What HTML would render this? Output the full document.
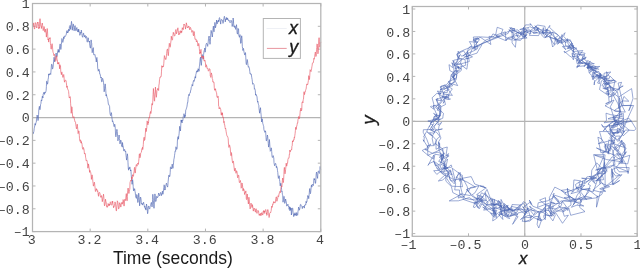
<!DOCTYPE html>
<html><head><meta charset="utf-8"><style>
html,body{margin:0;padding:0;background:#fff;width:640px;height:269px;overflow:hidden}
svg{display:block;will-change:transform}
.m{font-family:"Liberation Mono",monospace;font-size:13.3px;fill:#444}
.it{font-family:"Liberation Sans",sans-serif;font-style:italic;font-size:18px;fill:#1a1a1a;stroke:#1a1a1a;stroke-width:0.35}
.it2{font-family:"Liberation Sans",sans-serif;font-style:italic;font-size:16.8px;fill:#1a1a1a;stroke:#1a1a1a;stroke-width:0.35}
.lab{font-family:"Liberation Sans",sans-serif;font-size:17.5px;fill:#1a1a1a}
</style></head><body>
<svg width="640" height="269" viewBox="0 0 640 269">
<rect width="640" height="269" fill="#fff"/>
<line x1="32.5" y1="117.55" x2="320.8" y2="117.55" stroke="#b4b4b4" stroke-width="1.2"/>
<line x1="32.5" y1="231.6" x2="32.5" y2="228.6" stroke="#b4b4b4"/>
<line x1="32.5" y1="3.5" x2="32.5" y2="6.5" stroke="#b4b4b4"/>
<text x="31.80" y="244" text-anchor="middle" class="m">3</text>
<line x1="90.16000000000005" y1="231.6" x2="90.16000000000005" y2="228.6" stroke="#b4b4b4"/>
<line x1="90.16000000000005" y1="3.5" x2="90.16000000000005" y2="6.5" stroke="#b4b4b4"/>
<text x="89.46" y="244" text-anchor="middle" class="m">3.2</text>
<line x1="147.82" y1="231.6" x2="147.82" y2="228.6" stroke="#b4b4b4"/>
<line x1="147.82" y1="3.5" x2="147.82" y2="6.5" stroke="#b4b4b4"/>
<text x="147.12" y="244" text-anchor="middle" class="m">3.4</text>
<line x1="205.48000000000005" y1="231.6" x2="205.48000000000005" y2="228.6" stroke="#b4b4b4"/>
<line x1="205.48000000000005" y1="3.5" x2="205.48000000000005" y2="6.5" stroke="#b4b4b4"/>
<text x="204.78" y="244" text-anchor="middle" class="m">3.6</text>
<line x1="263.14" y1="231.6" x2="263.14" y2="228.6" stroke="#b4b4b4"/>
<line x1="263.14" y1="3.5" x2="263.14" y2="6.5" stroke="#b4b4b4"/>
<text x="262.44" y="244" text-anchor="middle" class="m">3.8</text>
<line x1="320.8" y1="231.6" x2="320.8" y2="228.6" stroke="#b4b4b4"/>
<line x1="320.8" y1="3.5" x2="320.8" y2="6.5" stroke="#b4b4b4"/>
<text x="320.10" y="244" text-anchor="middle" class="m">4</text>
<line x1="32.5" y1="231.6" x2="35.5" y2="231.6" stroke="#b4b4b4"/>
<line x1="320.8" y1="231.6" x2="317.8" y2="231.6" stroke="#b4b4b4"/>
<text x="29.8" y="236.40" text-anchor="end" class="m">&#8211;1</text>
<line x1="32.5" y1="208.79000000000002" x2="35.5" y2="208.79000000000002" stroke="#b4b4b4"/>
<line x1="320.8" y1="208.79000000000002" x2="317.8" y2="208.79000000000002" stroke="#b4b4b4"/>
<text x="29.8" y="213.59" text-anchor="end" class="m">&#8211;0.8</text>
<line x1="32.5" y1="185.98" x2="35.5" y2="185.98" stroke="#b4b4b4"/>
<line x1="320.8" y1="185.98" x2="317.8" y2="185.98" stroke="#b4b4b4"/>
<text x="29.8" y="190.78" text-anchor="end" class="m">&#8211;0.6</text>
<line x1="32.5" y1="163.17" x2="35.5" y2="163.17" stroke="#b4b4b4"/>
<line x1="320.8" y1="163.17" x2="317.8" y2="163.17" stroke="#b4b4b4"/>
<text x="29.8" y="167.97" text-anchor="end" class="m">&#8211;0.4</text>
<line x1="32.5" y1="140.35999999999999" x2="35.5" y2="140.35999999999999" stroke="#b4b4b4"/>
<line x1="320.8" y1="140.35999999999999" x2="317.8" y2="140.35999999999999" stroke="#b4b4b4"/>
<text x="29.8" y="145.16" text-anchor="end" class="m">&#8211;0.2</text>
<line x1="32.5" y1="117.55" x2="35.5" y2="117.55" stroke="#b4b4b4"/>
<line x1="320.8" y1="117.55" x2="317.8" y2="117.55" stroke="#b4b4b4"/>
<text x="29.8" y="122.35" text-anchor="end" class="m">0</text>
<line x1="32.5" y1="94.73999999999998" x2="35.5" y2="94.73999999999998" stroke="#b4b4b4"/>
<line x1="320.8" y1="94.73999999999998" x2="317.8" y2="94.73999999999998" stroke="#b4b4b4"/>
<text x="29.8" y="99.54" text-anchor="end" class="m">0.2</text>
<line x1="32.5" y1="71.92999999999998" x2="35.5" y2="71.92999999999998" stroke="#b4b4b4"/>
<line x1="320.8" y1="71.92999999999998" x2="317.8" y2="71.92999999999998" stroke="#b4b4b4"/>
<text x="29.8" y="76.73" text-anchor="end" class="m">0.4</text>
<line x1="32.5" y1="49.11999999999999" x2="35.5" y2="49.11999999999999" stroke="#b4b4b4"/>
<line x1="320.8" y1="49.11999999999999" x2="317.8" y2="49.11999999999999" stroke="#b4b4b4"/>
<text x="29.8" y="53.92" text-anchor="end" class="m">0.6</text>
<line x1="32.5" y1="26.309999999999988" x2="35.5" y2="26.309999999999988" stroke="#b4b4b4"/>
<line x1="320.8" y1="26.309999999999988" x2="317.8" y2="26.309999999999988" stroke="#b4b4b4"/>
<text x="29.8" y="31.11" text-anchor="end" class="m">0.8</text>
<line x1="32.5" y1="3.5" x2="35.5" y2="3.5" stroke="#b4b4b4"/>
<line x1="320.8" y1="3.5" x2="317.8" y2="3.5" stroke="#b4b4b4"/>
<text x="29.8" y="8.30" text-anchor="end" class="m">1</text>
<polyline points="32.5,134.8 32.8,132.5 33.1,132.4 33.4,133.5 33.7,131.9 33.9,131.4 34.2,128.7 34.5,127.2 34.8,125.4 35.1,123.5 35.4,125.2 35.7,123.8 36.0,122.6 36.3,122.1 36.5,119.1 36.8,118.0 37.1,115.0 37.4,116.0 37.7,118.2 38.0,120.6 38.3,119.0 38.6,114.3 38.8,109.8 39.1,107.8 39.4,106.3 39.7,109.4 40.0,109.8 40.3,108.0 40.6,104.4 40.9,103.7 41.2,100.6 41.4,99.9 41.7,100.9 42.0,99.0 42.3,96.1 42.6,96.7 42.9,98.0 43.2,94.2 43.5,93.7 43.8,94.0 44.0,92.1 44.3,94.3 44.6,94.3 44.9,92.0 45.2,92.2 45.5,92.6 45.8,91.7 46.1,90.5 46.4,86.5 46.6,81.2 46.9,81.4 47.2,83.0 47.5,84.2 47.8,82.9 48.1,79.3 48.4,77.9 48.7,74.1 48.9,75.2 49.2,73.7 49.5,74.5 49.8,74.0 50.1,74.0 50.4,73.6 50.7,74.5 51.0,70.9 51.3,67.1 51.5,64.3 51.8,64.2 52.1,65.0 52.4,69.1 52.7,68.6 53.0,67.5 53.3,64.9 53.6,61.6 53.9,59.9 54.1,57.2 54.4,61.8 54.7,59.9 55.0,59.9 55.3,58.7 55.6,57.4 55.9,54.1 56.2,53.0 56.5,56.1 56.7,56.9 57.0,56.3 57.3,55.7 57.6,51.2 57.9,50.8 58.2,49.3 58.5,52.2 58.8,50.4 59.1,52.4 59.3,51.3 59.6,46.7 59.9,45.2 60.2,43.9 60.5,48.0 60.8,49.5 61.1,48.6 61.4,44.6 61.6,42.0 61.9,38.5 62.2,39.3 62.5,41.8 62.8,42.4 63.1,41.6 63.4,40.5 63.7,37.0 64.0,38.6 64.2,36.0 64.5,35.9 64.8,36.4 65.1,36.7 65.4,36.2 65.7,35.6 66.0,35.0 66.3,34.1 66.6,31.5 66.8,31.5 67.1,30.5 67.4,33.0 67.7,31.8 68.0,32.5 68.3,32.2 68.6,29.6 68.9,29.0 69.2,31.0 69.4,26.9 69.7,27.2 70.0,25.4 70.3,25.8 70.6,29.4 70.9,27.0 71.2,23.8 71.5,21.4 71.7,22.8 72.0,25.9 72.3,30.2 72.6,26.6 72.9,26.2 73.2,23.9 73.5,24.7 73.8,27.8 74.1,30.8 74.3,29.8 74.6,27.4 74.9,25.8 75.2,25.6 75.5,30.3 75.8,30.7 76.1,30.6 76.4,29.0 76.7,27.8 76.9,27.5 77.2,30.5 77.5,31.6 77.8,31.6 78.1,29.4 78.4,32.1 78.7,29.2 79.0,30.9 79.3,31.6 79.5,33.3 79.8,35.3 80.1,34.6 80.4,34.3 80.7,32.1 81.0,32.9 81.3,30.1 81.6,31.8 81.8,33.6 82.1,35.7 82.4,37.0 82.7,37.3 83.0,35.4 83.3,33.3 83.6,33.1 83.9,35.3 84.2,35.7 84.4,37.0 84.7,36.3 85.0,35.2 85.3,37.2 85.6,38.2 85.9,38.0 86.2,36.3 86.5,36.9 86.8,37.4 87.0,41.9 87.3,42.1 87.6,41.5 87.9,39.3 88.2,37.8 88.5,40.6 88.8,41.2 89.1,42.1 89.4,41.0 89.6,43.8 89.9,45.9 90.2,47.9 90.5,48.1 90.8,44.4 91.1,39.9 91.4,42.6 91.7,43.5 91.9,48.6 92.2,52.7 92.5,51.3 92.8,48.8 93.1,48.0 93.4,47.7 93.7,54.8 94.0,54.9 94.3,55.0 94.5,54.9 94.8,54.4 95.1,55.1 95.4,57.4 95.7,58.3 96.0,59.0 96.3,62.0 96.6,58.3 96.9,57.4 97.1,59.2 97.4,61.9 97.7,68.1 98.0,69.6 98.3,71.2 98.6,70.9 98.9,69.2 99.2,71.0 99.5,71.0 99.7,73.8 100.0,73.7 100.3,74.9 100.6,76.7 100.9,77.9 101.2,77.0 101.5,81.2 101.8,81.9 102.0,81.8 102.3,79.7 102.6,78.3 102.9,79.2 103.2,80.2 103.5,82.2 103.8,85.4 104.1,91.8 104.4,91.1 104.6,88.5 104.9,85.7 105.2,83.9 105.5,86.8 105.8,90.8 106.1,96.0 106.4,94.5 106.7,96.0 107.0,97.3 107.2,97.7 107.5,98.4 107.8,99.6 108.1,102.0 108.4,104.4 108.7,104.5 109.0,104.6 109.3,105.8 109.6,106.5 109.8,110.9 110.1,113.8 110.4,115.0 110.7,115.7 111.0,114.2 111.3,112.6 111.6,114.2 111.9,117.8 112.2,119.5 112.4,121.7 112.7,120.8 113.0,121.6 113.3,122.8 113.6,124.2 113.9,126.0 114.2,126.7 114.5,125.7 114.7,124.2 115.0,125.6 115.3,128.6 115.6,135.7 115.9,136.8 116.2,135.5 116.5,131.4 116.8,129.3 117.1,129.7 117.3,131.7 117.6,136.3 117.9,140.8 118.2,139.6 118.5,138.4 118.8,137.3 119.1,135.0 119.4,138.4 119.7,140.4 119.9,143.9 120.2,143.5 120.5,140.6 120.8,140.0 121.1,141.0 121.4,144.2 121.7,146.1 122.0,146.1 122.3,147.1 122.5,142.5 122.8,145.3 123.1,145.9 123.4,148.1 123.7,150.6 124.0,151.1 124.3,150.0 124.6,149.4 124.8,150.2 125.1,150.9 125.4,151.9 125.7,151.3 126.0,155.2 126.3,157.6 126.6,160.1 126.9,158.0 127.2,154.9 127.4,153.8 127.7,156.7 128.0,162.8 128.3,168.5 128.6,170.2 128.9,167.8 129.2,168.9 129.5,168.4 129.8,166.9 130.0,167.9 130.3,169.4 130.6,171.0 130.9,169.9 131.2,174.3 131.5,178.2 131.8,182.4 132.1,184.3 132.4,182.3 132.6,179.6 132.9,181.7 133.2,186.6 133.5,190.5 133.8,191.0 134.1,188.6 134.4,189.4 134.7,188.9 134.9,191.2 135.2,191.9 135.5,195.2 135.8,197.3 136.1,197.4 136.4,198.4 136.7,194.6 137.0,194.6 137.3,196.2 137.5,200.1 137.8,202.5 138.1,201.9 138.4,197.6 138.7,193.2 139.0,195.7 139.3,199.8 139.6,205.8 139.9,204.2 140.1,201.0 140.4,197.0 140.7,197.5 141.0,199.0 141.3,202.9 141.6,204.1 141.9,204.1 142.2,203.4 142.5,205.1 142.7,204.4 143.0,203.9 143.3,202.7 143.6,202.2 143.9,204.2 144.2,205.3 144.5,207.3 144.8,206.3 145.0,206.7 145.3,208.8 145.6,208.2 145.9,210.1 146.2,206.4 146.5,204.0 146.8,205.7 147.1,208.0 147.4,211.6 147.6,213.7 147.9,212.4 148.2,207.3 148.5,206.2 148.8,206.1 149.1,208.3 149.4,208.6 149.7,209.1 150.0,207.4 150.2,206.2 150.5,205.7 150.8,204.2 151.1,203.1 151.4,202.4 151.7,204.8 152.0,206.9 152.3,205.5 152.6,199.7 152.8,194.3 153.1,197.1 153.4,200.4 153.7,204.6 154.0,208.3 154.3,203.0 154.6,199.0 154.9,193.9 155.2,195.7 155.4,199.3 155.7,201.6 156.0,201.4 156.3,199.6 156.6,196.4 156.9,196.6 157.2,196.7 157.5,197.7 157.7,197.2 158.0,197.1 158.3,195.2 158.6,193.0 158.9,193.6 159.2,194.3 159.5,195.5 159.8,196.0 160.1,194.2 160.3,193.0 160.6,192.4 160.9,192.7 161.2,194.1 161.5,195.6 161.8,193.8 162.1,193.8 162.4,191.0 162.7,191.5 162.9,194.3 163.2,192.2 163.5,189.9 163.8,187.6 164.1,184.8 164.4,185.5 164.7,190.1 165.0,189.2 165.3,189.6 165.5,188.3 165.8,185.4 166.1,184.4 166.4,183.2 166.7,184.2 167.0,185.8 167.3,186.1 167.6,187.1 167.8,185.8 168.1,181.9 168.4,179.0 168.7,175.2 169.0,175.5 169.3,175.3 169.6,176.8 169.9,175.8 170.2,172.7 170.4,167.5 170.7,166.8 171.0,167.7 171.3,169.0 171.6,167.6 171.9,166.5 172.2,164.1 172.5,166.1 172.8,168.4 173.0,168.3 173.3,165.4 173.6,162.2 173.9,159.2 174.2,158.1 174.5,155.7 174.8,153.6 175.1,151.0 175.4,150.8 175.6,151.3 175.9,146.8 176.2,147.3 176.5,149.3 176.8,149.4 177.1,148.6 177.4,141.1 177.7,137.4 177.9,137.2 178.2,136.5 178.5,139.2 178.8,135.8 179.1,133.8 179.4,130.0 179.7,126.3 180.0,128.3 180.3,130.3 180.5,131.0 180.8,125.0 181.1,119.9 181.4,121.8 181.7,120.0 182.0,123.0 182.3,120.5 182.6,121.0 182.9,120.1 183.1,117.4 183.4,116.2 183.7,115.7 184.0,113.7 184.3,115.4 184.6,117.8 184.9,115.1 185.2,116.5 185.5,114.3 185.7,110.1 186.0,109.6 186.3,108.8 186.6,107.8 186.9,106.9 187.2,104.9 187.5,102.5 187.8,102.6 188.0,99.6 188.3,96.7 188.6,96.3 188.9,94.4 189.2,95.6 189.5,93.7 189.8,93.4 190.1,92.4 190.4,92.5 190.6,90.4 190.9,90.3 191.2,87.7 191.5,86.9 191.8,86.4 192.1,84.5 192.4,85.0 192.7,85.9 193.0,82.8 193.2,82.0 193.5,80.7 193.8,80.3 194.1,81.4 194.4,80.5 194.7,78.9 195.0,76.6 195.3,76.7 195.6,78.1 195.8,74.7 196.1,73.8 196.4,71.8 196.7,71.2 197.0,72.2 197.3,70.3 197.6,71.6 197.9,71.9 198.1,68.7 198.4,69.6 198.7,69.1 199.0,71.3 199.3,66.9 199.6,65.1 199.9,61.8 200.2,58.6 200.5,57.2 200.7,61.1 201.0,63.2 201.3,65.4 201.6,62.2 201.9,56.5 202.2,54.5 202.5,56.3 202.8,56.9 203.1,59.2 203.3,58.8 203.6,54.7 203.9,52.0 204.2,50.6 204.5,49.6 204.8,48.0 205.1,52.2 205.4,50.4 205.7,48.0 205.9,44.8 206.2,44.3 206.5,43.2 206.8,43.6 207.1,43.8 207.4,45.7 207.7,46.4 208.0,43.7 208.3,41.2 208.5,38.5 208.8,37.0 209.1,36.0 209.4,38.5 209.7,41.0 210.0,44.3 210.3,41.3 210.6,37.2 210.8,33.7 211.1,30.4 211.4,31.2 211.7,33.7 212.0,34.9 212.3,37.0 212.6,34.1 212.9,30.2 213.2,27.3 213.4,26.1 213.7,30.1 214.0,31.8 214.3,28.9 214.6,25.7 214.9,22.4 215.2,24.7 215.5,27.8 215.8,26.1 216.0,25.3 216.3,23.8 216.6,20.0 216.9,23.4 217.2,23.9 217.5,23.4 217.8,21.0 218.1,21.5 218.4,20.0 218.6,21.7 218.9,21.5 219.2,18.4 219.5,17.6 219.8,18.5 220.1,20.0 220.4,22.2 220.7,24.1 220.9,21.4 221.2,20.4 221.5,19.4 221.8,19.7 222.1,19.9 222.4,20.9 222.7,20.9 223.0,23.4 223.3,22.3 223.5,19.7 223.8,19.7 224.1,17.3 224.4,16.3 224.7,17.7 225.0,19.5 225.3,21.9 225.6,19.4 225.9,19.9 226.1,18.7 226.4,17.5 226.7,19.5 227.0,19.8 227.3,17.9 227.6,19.3 227.9,18.8 228.2,20.3 228.5,20.3 228.7,20.5 229.0,20.0 229.3,21.3 229.6,22.2 229.9,22.4 230.2,22.8 230.5,22.4 230.8,22.0 231.0,20.2 231.3,20.8 231.6,21.1 231.9,23.4 232.2,26.5 232.5,24.8 232.8,23.8 233.1,18.0 233.4,19.5 233.6,23.3 233.9,26.5 234.2,25.7 234.5,27.4 234.8,26.5 235.1,26.2 235.4,28.3 235.7,29.4 236.0,26.7 236.2,26.3 236.5,24.7 236.8,28.2 237.1,32.8 237.4,34.0 237.7,34.1 238.0,28.4 238.3,29.3 238.6,29.1 238.8,35.6 239.1,36.2 239.4,37.3 239.7,35.8 240.0,34.6 240.3,37.3 240.6,43.3 240.9,43.2 241.1,43.1 241.4,38.2 241.7,35.8 242.0,38.3 242.3,46.4 242.6,48.4 242.9,50.5 243.2,49.5 243.5,48.4 243.7,49.7 244.0,52.1 244.3,53.0 244.6,54.8 244.9,54.9 245.2,53.6 245.5,52.6 245.8,57.8 246.1,63.0 246.3,64.4 246.6,64.7 246.9,61.8 247.2,59.5 247.5,60.7 247.8,63.5 248.1,66.0 248.4,67.2 248.7,66.7 248.9,66.7 249.2,67.9 249.5,69.0 249.8,71.6 250.1,73.9 250.4,73.5 250.7,74.4 251.0,74.2 251.3,74.1 251.5,76.0 251.8,77.8 252.1,79.4 252.4,81.8 252.7,84.3 253.0,83.6 253.3,83.6 253.6,84.0 253.8,84.2 254.1,84.7 254.4,89.2 254.7,88.7 255.0,89.3 255.3,90.7 255.6,95.0 255.9,94.1 256.2,95.9 256.4,95.5 256.7,95.7 257.0,96.9 257.3,100.2 257.6,102.2 257.9,101.3 258.2,103.2 258.5,104.6 258.8,105.4 259.0,108.6 259.3,110.6 259.6,113.2 259.9,110.2 260.2,109.2 260.5,107.7 260.8,112.3 261.1,114.7 261.4,119.0 261.6,122.0 261.9,120.9 262.2,118.8 262.5,121.1 262.8,123.6 263.1,124.4 263.4,125.6 263.7,126.4 263.9,129.5 264.2,130.8 264.5,130.8 264.8,132.3 265.1,131.9 265.4,130.8 265.7,132.0 266.0,137.3 266.3,140.9 266.5,140.8 266.8,139.7 267.1,137.1 267.4,135.0 267.7,136.5 268.0,140.3 268.3,143.7 268.6,147.1 268.9,145.5 269.1,143.6 269.4,139.5 269.7,143.0 270.0,148.2 270.3,151.3 270.6,151.0 270.9,150.1 271.2,147.8 271.5,149.2 271.7,151.4 272.0,156.0 272.3,157.5 272.6,157.3 272.9,156.5 273.2,155.6 273.5,157.0 273.8,158.0 274.0,162.7 274.3,164.2 274.6,165.7 274.9,164.5 275.2,164.3 275.5,163.4 275.8,163.6 276.1,165.6 276.4,167.7 276.6,166.3 276.9,167.1 277.2,167.9 277.5,170.6 277.8,172.6 278.1,176.3 278.4,178.4 278.7,177.9 279.0,175.7 279.2,175.8 279.5,179.6 279.8,181.4 280.1,185.6 280.4,185.9 280.7,183.2 281.0,183.6 281.3,187.0 281.6,189.4 281.8,192.0 282.1,191.5 282.4,194.3 282.7,195.2 283.0,202.2 283.3,200.7 283.6,199.4 283.9,196.4 284.1,196.4 284.4,200.0 284.7,203.4 285.0,202.7 285.3,201.5 285.6,199.0 285.9,200.5 286.2,201.4 286.5,204.1 286.7,206.0 287.0,206.1 287.3,205.7 287.6,204.7 287.9,204.1 288.2,205.4 288.5,206.7 288.8,206.4 289.1,209.3 289.3,208.6 289.6,206.8 289.9,210.7 290.2,208.8 290.5,207.5 290.8,210.2 291.1,208.0 291.4,215.0 291.7,212.4 291.9,210.9 292.2,208.6 292.5,207.9 292.8,208.7 293.1,213.2 293.4,214.3 293.7,216.6 294.0,215.3 294.2,213.7 294.5,215.3 294.8,214.0 295.1,212.7 295.4,214.7 295.7,214.0 296.0,215.5 296.3,216.0 296.6,212.6 296.8,212.9 297.1,214.4 297.4,215.1 297.7,215.3 298.0,211.3 298.3,210.0 298.6,207.1 298.9,208.3 299.2,208.6 299.4,210.2 299.7,209.2 300.0,207.8 300.3,204.7 300.6,204.4 300.9,204.5 301.2,205.7 301.5,206.1 301.8,206.3 302.0,206.8 302.3,208.6 302.6,207.2 302.9,206.0 303.2,206.3 303.5,206.5 303.8,206.3 304.1,208.1 304.4,208.0 304.6,205.3 304.9,205.7 305.2,204.8 305.5,204.2 305.8,204.6 306.1,201.3 306.4,202.8 306.7,202.0 306.9,201.7 307.2,199.1 307.5,197.7 307.8,195.5 308.1,196.5 308.4,196.2 308.7,198.7 309.0,196.1 309.3,192.6 309.5,190.1 309.8,188.5 310.1,192.4 310.4,193.7 310.7,192.2 311.0,189.1 311.3,185.7 311.6,185.0 311.9,187.1 312.1,184.4 312.4,184.5 312.7,184.4 313.0,185.0 313.3,185.6 313.6,183.4 313.9,178.6 314.2,178.7 314.5,179.8 314.7,178.7 315.0,180.7 315.3,183.3 315.6,183.3 315.9,179.7 316.2,174.1 316.5,172.1 316.8,173.2 317.0,175.4 317.3,176.9 317.6,178.4 317.9,173.6 318.2,171.2 318.5,170.9 318.8,171.8 319.1,173.2 319.4,173.5 319.6,172.7 319.9,169.6 320.2,166.4 320.5,169.2 320.8,169.6" fill="none" stroke="#5068b4" stroke-width="0.65"/>
<polyline points="32.5,27.0 32.8,26.6 33.1,25.6 33.4,25.5 33.7,22.9 33.9,25.6 34.2,28.1 34.5,29.1 34.8,28.0 35.1,24.8 35.4,22.6 35.7,23.0 36.0,23.9 36.3,26.9 36.5,26.9 36.8,28.0 37.1,26.2 37.4,22.3 37.7,23.2 38.0,22.2 38.3,23.5 38.6,26.6 38.8,28.9 39.1,27.2 39.4,28.1 39.7,21.6 40.0,18.7 40.3,22.0 40.6,24.8 40.9,26.5 41.2,26.5 41.4,28.5 41.7,25.5 42.0,23.9 42.3,23.0 42.6,25.3 42.9,27.9 43.2,30.6 43.5,29.4 43.8,27.8 44.0,26.5 44.3,27.2 44.6,29.7 44.9,32.2 45.2,29.0 45.5,29.6 45.8,32.0 46.1,33.1 46.4,37.1 46.6,34.2 46.9,30.7 47.2,28.5 47.5,31.1 47.8,36.9 48.1,40.0 48.4,39.0 48.7,42.1 48.9,39.0 49.2,37.8 49.5,38.3 49.8,38.8 50.1,37.6 50.4,43.8 50.7,45.3 51.0,48.8 51.3,49.2 51.5,47.1 51.8,44.9 52.1,43.7 52.4,46.0 52.7,49.3 53.0,52.2 53.3,52.8 53.6,53.9 53.9,55.6 54.1,55.2 54.4,54.3 54.7,55.7 55.0,57.2 55.3,60.2 55.6,61.4 55.9,60.7 56.2,58.4 56.5,57.6 56.7,55.7 57.0,59.8 57.3,59.9 57.6,63.9 57.9,63.9 58.2,62.8 58.5,63.8 58.8,62.3 59.1,64.5 59.3,65.1 59.6,68.8 59.9,64.7 60.2,65.7 60.5,65.9 60.8,72.2 61.1,73.1 61.4,74.7 61.6,72.6 61.9,71.9 62.2,74.1 62.5,75.0 62.8,77.3 63.1,77.3 63.4,75.5 63.7,74.5 64.0,76.4 64.2,80.0 64.5,82.2 64.8,80.7 65.1,80.9 65.4,80.4 65.7,80.2 66.0,80.4 66.3,82.5 66.6,85.2 66.8,87.4 67.1,85.9 67.4,88.1 67.7,89.0 68.0,89.8 68.3,90.3 68.6,91.4 68.9,94.6 69.2,97.9 69.4,97.9 69.7,97.0 70.0,96.8 70.3,96.7 70.6,103.2 70.9,107.5 71.2,113.3 71.5,111.0 71.7,106.7 72.0,107.2 72.3,111.7 72.6,116.0 72.9,117.7 73.2,117.7 73.5,117.5 73.8,116.6 74.1,117.3 74.3,118.8 74.6,120.2 74.9,121.6 75.2,121.6 75.5,122.2 75.8,124.7 76.1,126.5 76.4,128.5 76.7,128.9 76.9,126.6 77.2,124.2 77.5,126.7 77.8,129.5 78.1,133.6 78.4,132.7 78.7,130.8 79.0,131.2 79.3,135.5 79.5,138.7 79.8,140.4 80.1,141.4 80.4,139.8 80.7,140.3 81.0,143.1 81.3,141.5 81.6,143.1 81.8,143.0 82.1,144.7 82.4,147.8 82.7,148.8 83.0,149.4 83.3,147.4 83.6,148.2 83.9,149.0 84.2,151.1 84.4,153.6 84.7,153.0 85.0,154.1 85.3,153.8 85.6,157.3 85.9,158.6 86.2,160.9 86.5,160.5 86.8,160.2 87.0,160.6 87.3,162.5 87.6,165.1 87.9,168.2 88.2,166.9 88.5,163.9 88.8,166.1 89.1,167.6 89.4,170.1 89.6,172.4 89.9,170.3 90.2,171.3 90.5,171.9 90.8,172.8 91.1,175.0 91.4,179.4 91.7,176.8 91.9,175.3 92.2,174.9 92.5,176.8 92.8,181.1 93.1,183.4 93.4,186.1 93.7,186.0 94.0,183.3 94.3,182.1 94.5,182.6 94.8,185.5 95.1,188.1 95.4,191.5 95.7,191.3 96.0,190.0 96.3,188.6 96.6,190.0 96.9,189.9 97.1,189.6 97.4,191.5 97.7,190.8 98.0,192.7 98.3,195.1 98.6,196.3 98.9,192.9 99.2,193.0 99.5,192.4 99.7,192.6 100.0,193.6 100.3,195.5 100.6,197.1 100.9,197.4 101.2,196.9 101.5,195.6 101.8,197.1 102.0,198.6 102.3,201.7 102.6,199.9 102.9,197.8 103.2,196.2 103.5,194.2 103.8,196.8 104.1,201.2 104.4,205.2 104.6,205.9 104.9,204.7 105.2,202.8 105.5,199.2 105.8,201.3 106.1,201.8 106.4,204.6 106.7,206.5 107.0,205.9 107.2,207.4 107.5,207.0 107.8,206.1 108.1,203.5 108.4,204.0 108.7,205.1 109.0,206.0 109.3,204.1 109.6,205.2 109.8,205.1 110.1,202.8 110.4,201.8 110.7,202.3 111.0,204.7 111.3,205.1 111.6,204.9 111.9,204.7 112.2,201.3 112.4,202.5 112.7,201.3 113.0,205.0 113.3,205.6 113.6,207.8 113.9,206.1 114.2,206.4 114.5,205.6 114.7,203.7 115.0,201.9 115.3,202.8 115.6,203.9 115.9,207.8 116.2,210.8 116.5,210.8 116.8,206.8 117.1,204.4 117.3,200.8 117.6,201.5 117.9,202.3 118.2,205.2 118.5,208.9 118.8,208.8 119.1,208.0 119.4,204.3 119.7,202.7 119.9,203.5 120.2,204.8 120.5,204.7 120.8,207.1 121.1,205.4 121.4,202.7 121.7,202.6 122.0,203.6 122.3,204.2 122.5,202.6 122.8,203.3 123.1,199.6 123.4,200.3 123.7,203.7 124.0,206.1 124.3,204.9 124.6,199.9 124.8,199.2 125.1,199.5 125.4,200.6 125.7,199.1 126.0,196.0 126.3,193.6 126.6,197.2 126.9,200.7 127.2,200.7 127.4,196.5 127.7,190.3 128.0,188.0 128.3,188.4 128.6,191.8 128.9,193.5 129.2,191.9 129.5,189.9 129.8,189.2 130.0,182.7 130.3,181.6 130.6,180.8 130.9,180.0 131.2,181.0 131.5,180.8 131.8,176.9 132.1,178.9 132.4,176.8 132.6,174.7 132.9,176.1 133.2,176.1 133.5,176.3 133.8,172.8 134.1,172.0 134.4,168.1 134.7,167.3 134.9,170.1 135.2,173.1 135.5,170.7 135.8,168.1 136.1,165.5 136.4,164.5 136.7,165.5 137.0,166.2 137.3,164.8 137.5,164.2 137.8,163.1 138.1,163.8 138.4,164.4 138.7,161.4 139.0,158.4 139.3,153.9 139.6,153.8 139.9,157.8 140.1,157.4 140.4,156.5 140.7,153.1 141.0,152.8 141.3,152.4 141.6,151.0 141.9,148.5 142.2,148.3 142.5,147.3 142.7,149.6 143.0,147.8 143.3,144.6 143.6,139.6 143.9,138.1 144.2,137.2 144.5,140.5 144.8,139.8 145.0,138.6 145.3,134.0 145.6,130.2 145.9,128.1 146.2,131.6 146.5,129.1 146.8,127.7 147.1,120.9 147.4,121.6 147.6,121.8 147.9,124.8 148.2,122.3 148.5,122.9 148.8,118.6 149.1,117.5 149.4,118.1 149.7,116.1 150.0,113.6 150.2,112.8 150.5,111.5 150.8,113.6 151.1,112.3 151.4,109.8 151.7,106.2 152.0,103.5 152.3,105.1 152.6,104.3 152.8,100.8 153.1,94.4 153.4,88.5 153.7,91.9 154.0,96.6 154.3,100.6 154.6,101.2 154.9,94.2 155.2,92.1 155.4,87.1 155.7,89.2 156.0,95.4 156.3,97.3 156.6,95.0 156.9,90.6 157.2,90.1 157.5,90.0 157.7,88.5 158.0,88.4 158.3,90.0 158.6,90.5 158.9,85.1 159.2,83.9 159.5,79.8 159.8,78.2 160.1,77.0 160.3,77.3 160.6,76.5 160.9,76.1 161.2,76.4 161.5,71.2 161.8,65.7 162.1,66.5 162.4,67.3 162.7,66.0 162.9,66.3 163.2,66.9 163.5,66.6 163.8,63.3 164.1,59.1 164.4,55.6 164.7,56.6 165.0,57.8 165.3,59.2 165.5,58.7 165.8,59.5 166.1,58.8 166.4,55.9 166.7,53.2 167.0,50.1 167.3,49.4 167.6,48.9 167.8,51.7 168.1,55.3 168.4,55.7 168.7,51.3 169.0,46.5 169.3,43.3 169.6,44.2 169.9,46.9 170.2,47.2 170.4,46.4 170.7,43.0 171.0,40.7 171.3,36.2 171.6,38.2 171.9,39.3 172.2,40.2 172.5,39.8 172.8,36.6 173.0,34.9 173.3,32.3 173.6,33.5 173.9,33.3 174.2,35.7 174.5,35.9 174.8,35.9 175.1,34.8 175.4,31.4 175.6,30.4 175.9,29.5 176.2,31.2 176.5,33.8 176.8,33.0 177.1,31.6 177.4,30.4 177.7,28.4 177.9,27.8 178.2,30.7 178.5,32.0 178.8,34.9 179.1,33.6 179.4,33.7 179.7,34.2 180.0,31.0 180.3,30.7 180.5,32.4 180.8,32.5 181.1,33.1 181.4,31.0 181.7,32.4 182.0,30.6 182.3,27.7 182.6,29.1 182.9,29.0 183.1,29.6 183.4,29.4 183.7,26.1 184.0,24.0 184.3,25.0 184.6,24.8 184.9,25.3 185.2,26.7 185.5,29.1 185.7,27.2 186.0,26.0 186.3,22.8 186.6,24.0 186.9,25.2 187.2,27.5 187.5,27.9 187.8,27.0 188.0,26.9 188.3,27.4 188.6,26.1 188.9,26.0 189.2,27.3 189.5,28.9 189.8,29.8 190.1,27.8 190.4,27.3 190.6,27.9 190.9,28.6 191.2,30.0 191.5,30.4 191.8,32.3 192.1,31.8 192.4,31.4 192.7,30.5 193.0,31.3 193.2,34.8 193.5,35.8 193.8,33.8 194.1,31.5 194.4,33.9 194.7,35.9 195.0,39.4 195.3,39.3 195.6,39.3 195.8,38.9 196.1,39.2 196.4,42.0 196.7,41.6 197.0,40.6 197.3,41.5 197.6,43.8 197.9,46.0 198.1,46.0 198.4,44.8 198.7,43.4 199.0,44.6 199.3,48.5 199.6,51.5 199.9,54.1 200.2,51.9 200.5,53.0 200.7,50.4 201.0,49.4 201.3,54.7 201.6,58.0 201.9,58.2 202.2,56.2 202.5,57.0 202.8,56.4 203.1,57.6 203.3,58.8 203.6,56.2 203.9,60.1 204.2,61.2 204.5,61.0 204.8,60.1 205.1,61.0 205.4,62.8 205.7,65.3 205.9,67.2 206.2,64.7 206.5,65.4 206.8,66.3 207.1,68.6 207.4,68.4 207.7,68.6 208.0,68.5 208.3,71.1 208.5,70.8 208.8,70.7 209.1,70.5 209.4,68.6 209.7,68.9 210.0,69.5 210.3,75.9 210.6,76.2 210.8,77.4 211.1,75.1 211.4,72.9 211.7,74.3 212.0,75.1 212.3,78.6 212.6,79.1 212.9,82.0 213.2,81.6 213.4,82.4 213.7,82.0 214.0,82.6 214.3,87.8 214.6,90.2 214.9,89.6 215.2,90.2 215.5,88.7 215.8,90.7 216.0,91.1 216.3,92.5 216.6,92.7 216.9,96.5 217.2,97.5 217.5,97.6 217.8,96.1 218.1,96.1 218.4,98.5 218.6,106.0 218.9,106.5 219.2,109.0 219.5,108.1 219.8,107.5 220.1,108.4 220.4,108.4 220.7,109.4 220.9,111.2 221.2,114.7 221.5,115.2 221.8,112.7 222.1,114.8 222.4,112.8 222.7,116.0 223.0,117.9 223.3,117.4 223.5,118.2 223.8,122.6 224.1,121.4 224.4,124.7 224.7,124.6 225.0,127.2 225.3,128.7 225.6,128.1 225.9,130.0 226.1,131.4 226.4,133.2 226.7,134.8 227.0,135.9 227.3,136.5 227.6,136.5 227.9,137.4 228.2,138.7 228.5,144.2 228.7,145.3 229.0,147.5 229.3,144.8 229.6,145.3 229.9,146.4 230.2,147.5 230.5,152.1 230.8,153.8 231.0,155.7 231.3,152.5 231.6,153.6 231.9,157.5 232.2,160.2 232.5,162.3 232.8,163.1 233.1,161.2 233.4,161.2 233.6,162.7 233.9,165.8 234.2,168.4 234.5,171.1 234.8,170.8 235.1,168.1 235.4,170.8 235.7,171.0 236.0,173.3 236.2,172.6 236.5,170.7 236.8,171.2 237.1,172.3 237.4,176.2 237.7,177.8 238.0,176.7 238.3,175.1 238.6,175.1 238.8,175.8 239.1,180.4 239.4,182.7 239.7,182.3 240.0,181.8 240.3,180.4 240.6,181.9 240.9,182.9 241.1,188.2 241.4,187.8 241.7,187.7 242.0,183.0 242.3,185.0 242.6,186.0 242.9,190.9 243.2,190.7 243.5,188.5 243.7,189.7 244.0,189.4 244.3,191.3 244.6,194.5 244.9,192.9 245.2,192.3 245.5,192.5 245.8,190.9 246.1,194.7 246.3,198.6 246.6,199.6 246.9,198.9 247.2,194.0 247.5,197.9 247.8,199.0 248.1,201.6 248.4,204.0 248.7,201.0 248.9,197.2 249.2,199.8 249.5,203.2 249.8,206.2 250.1,208.9 250.4,208.1 250.7,207.1 251.0,203.1 251.3,204.8 251.5,205.4 251.8,206.3 252.1,207.5 252.4,204.6 252.7,206.3 253.0,208.3 253.3,211.1 253.6,209.9 253.8,208.9 254.1,208.1 254.4,209.0 254.7,208.9 255.0,211.0 255.3,211.9 255.6,212.1 255.9,208.8 256.2,208.8 256.4,212.3 256.7,212.4 257.0,213.4 257.3,212.0 257.6,211.6 257.9,210.4 258.2,211.0 258.5,211.0 258.8,213.4 259.0,214.8 259.3,215.5 259.6,214.0 259.9,214.1 260.2,214.8 260.5,213.4 260.8,215.9 261.1,215.4 261.4,214.8 261.6,212.8 261.9,212.6 262.2,214.5 262.5,214.4 262.8,215.1 263.1,211.7 263.4,212.0 263.7,210.5 263.9,211.8 264.2,213.5 264.5,210.9 264.8,212.2 265.1,211.4 265.4,210.5 265.7,209.5 266.0,210.3 266.3,213.7 266.5,212.9 266.8,215.4 267.1,215.0 267.4,211.2 267.7,209.7 268.0,209.6 268.3,212.2 268.6,213.6 268.9,216.4 269.1,217.5 269.4,216.3 269.7,213.3 270.0,212.9 270.3,212.4 270.6,212.8 270.9,211.6 271.2,210.5 271.5,207.2 271.7,206.2 272.0,207.5 272.3,207.2 272.6,204.4 272.9,204.8 273.2,202.8 273.5,202.9 273.8,201.5 274.0,203.0 274.3,202.5 274.6,202.9 274.9,202.8 275.2,202.9 275.5,201.0 275.8,198.6 276.1,197.2 276.4,196.8 276.6,198.0 276.9,201.3 277.2,199.8 277.5,199.5 277.8,197.6 278.1,195.7 278.4,196.5 278.7,196.6 279.0,193.8 279.2,193.8 279.5,192.4 279.8,191.4 280.1,191.7 280.4,192.7 280.7,189.2 281.0,187.8 281.3,186.6 281.6,185.8 281.8,186.9 282.1,184.0 282.4,180.1 282.7,178.0 283.0,180.6 283.3,182.6 283.6,180.3 283.9,174.5 284.1,169.5 284.4,167.4 284.7,171.2 285.0,173.8 285.3,172.5 285.6,169.6 285.9,166.5 286.2,163.2 286.5,165.1 286.7,166.2 287.0,164.8 287.3,163.0 287.6,163.1 287.9,159.6 288.2,158.8 288.5,157.8 288.8,158.2 289.1,157.6 289.3,154.3 289.6,154.5 289.9,150.0 290.2,151.8 290.5,151.3 290.8,150.5 291.1,150.1 291.4,149.4 291.7,149.8 291.9,146.4 292.2,145.9 292.5,140.9 292.8,142.0 293.1,140.7 293.4,141.2 293.7,139.8 294.0,140.0 294.2,137.5 294.5,138.1 294.8,135.7 295.1,133.7 295.4,130.5 295.7,127.3 296.0,129.0 296.3,129.4 296.6,126.2 296.8,126.2 297.1,124.6 297.4,122.9 297.7,123.1 298.0,119.5 298.3,119.1 298.6,116.5 298.9,116.9 299.2,118.8 299.4,117.9 299.7,117.0 300.0,113.8 300.3,110.3 300.6,110.7 300.9,108.1 301.2,111.0 301.5,110.6 301.8,109.2 302.0,102.2 302.3,102.0 302.6,101.8 302.9,102.9 303.2,99.7 303.5,99.2 303.8,94.3 304.1,91.7 304.4,94.7 304.6,94.3 304.9,92.3 305.2,92.1 305.5,90.7 305.8,89.6 306.1,89.0 306.4,86.6 306.7,85.1 306.9,83.9 307.2,85.0 307.5,84.6 307.8,84.3 308.1,82.2 308.4,80.5 308.7,75.7 309.0,76.3 309.3,79.3 309.5,79.6 309.8,75.3 310.1,69.7 310.4,70.2 310.7,70.9 311.0,71.6 311.3,70.0 311.6,68.8 311.9,66.7 312.1,65.8 312.4,63.1 312.7,62.9 313.0,62.9 313.3,62.8 313.6,60.8 313.9,58.4 314.2,59.2 314.5,57.4 314.7,56.3 315.0,53.8 315.3,52.1 315.6,53.2 315.9,56.5 316.2,55.8 316.5,49.6 316.8,47.5 317.0,43.9 317.3,44.2 317.6,49.9 317.9,53.8 318.2,52.7 318.5,45.4 318.8,39.5 319.1,37.7 319.4,41.8 319.6,44.3 319.9,47.3 320.2,44.7 320.5,43.5 320.8,41.9" fill="none" stroke="#e85866" stroke-width="0.65"/>
<rect x="32.5" y="3.5" width="288.3" height="228.1" fill="none" stroke="#b4b4b4" stroke-width="1.25"/>
<rect x="263.3" y="18.5" width="37.1" height="39.9" fill="#fff" stroke="#b4b4b4" stroke-width="1"/>
<line x1="266.5" y1="28.5" x2="286.7" y2="28.5" stroke="#eef0f5" stroke-width="1"/>
<line x1="266.9" y1="48.4" x2="286.7" y2="48.4" stroke="#e8959e" stroke-width="1"/>
<text x="289.1" y="33.5" class="it">x</text>
<text x="289.3" y="52.6" class="it">y</text>
<text x="112.9" y="264.2" class="lab">Time (seconds)</text>
<line x1="412.3" y1="121.3" x2="637.2" y2="121.3" stroke="#b4b4b4" stroke-width="1.2"/>
<line x1="524.75" y1="6.5" x2="524.75" y2="236.3" stroke="#b4b4b4" stroke-width="1.2"/>
<line x1="412.29999999999995" y1="236.3" x2="412.29999999999995" y2="233.3" stroke="#b4b4b4"/>
<line x1="412.29999999999995" y1="6.5" x2="412.29999999999995" y2="9.5" stroke="#b4b4b4"/>
<text x="408.6" y="249.4" text-anchor="middle" class="m">&#8211;1</text>
<line x1="468.525" y1="236.3" x2="468.525" y2="233.3" stroke="#b4b4b4"/>
<line x1="468.525" y1="6.5" x2="468.525" y2="9.5" stroke="#b4b4b4"/>
<text x="465.4" y="249.4" text-anchor="middle" class="m">&#8211;0.5</text>
<line x1="524.75" y1="236.3" x2="524.75" y2="233.3" stroke="#b4b4b4"/>
<line x1="524.75" y1="6.5" x2="524.75" y2="9.5" stroke="#b4b4b4"/>
<text x="525.0" y="249.4" text-anchor="middle" class="m">0</text>
<line x1="580.975" y1="236.3" x2="580.975" y2="233.3" stroke="#b4b4b4"/>
<line x1="580.975" y1="6.5" x2="580.975" y2="9.5" stroke="#b4b4b4"/>
<text x="581.0" y="249.4" text-anchor="middle" class="m">0.5</text>
<line x1="637.2" y1="236.3" x2="637.2" y2="233.3" stroke="#b4b4b4"/>
<line x1="637.2" y1="6.5" x2="637.2" y2="9.5" stroke="#b4b4b4"/>
<text x="637.6" y="249.4" text-anchor="middle" class="m">1</text>
<line x1="412.3" y1="233.6" x2="415.3" y2="233.6" stroke="#b4b4b4"/>
<line x1="637.2" y1="233.6" x2="634.2" y2="233.6" stroke="#b4b4b4"/>
<text x="410.2" y="238.20" text-anchor="end" class="m">&#8211;1</text>
<line x1="412.3" y1="211.14" x2="415.3" y2="211.14" stroke="#b4b4b4"/>
<line x1="637.2" y1="211.14" x2="634.2" y2="211.14" stroke="#b4b4b4"/>
<text x="410.2" y="215.82" text-anchor="end" class="m">&#8211;0.8</text>
<line x1="412.3" y1="188.68" x2="415.3" y2="188.68" stroke="#b4b4b4"/>
<line x1="637.2" y1="188.68" x2="634.2" y2="188.68" stroke="#b4b4b4"/>
<text x="410.2" y="193.44" text-anchor="end" class="m">&#8211;0.6</text>
<line x1="412.3" y1="166.21999999999997" x2="415.3" y2="166.21999999999997" stroke="#b4b4b4"/>
<line x1="637.2" y1="166.21999999999997" x2="634.2" y2="166.21999999999997" stroke="#b4b4b4"/>
<text x="410.2" y="171.06" text-anchor="end" class="m">&#8211;0.4</text>
<line x1="412.3" y1="143.76" x2="415.3" y2="143.76" stroke="#b4b4b4"/>
<line x1="637.2" y1="143.76" x2="634.2" y2="143.76" stroke="#b4b4b4"/>
<text x="410.2" y="148.68" text-anchor="end" class="m">&#8211;0.2</text>
<line x1="412.3" y1="121.3" x2="415.3" y2="121.3" stroke="#b4b4b4"/>
<line x1="637.2" y1="121.3" x2="634.2" y2="121.3" stroke="#b4b4b4"/>
<text x="410.2" y="126.30" text-anchor="end" class="m">0</text>
<line x1="412.3" y1="98.83999999999997" x2="415.3" y2="98.83999999999997" stroke="#b4b4b4"/>
<line x1="637.2" y1="98.83999999999997" x2="634.2" y2="98.83999999999997" stroke="#b4b4b4"/>
<text x="410.2" y="103.92" text-anchor="end" class="m">0.2</text>
<line x1="412.3" y1="76.37999999999998" x2="415.3" y2="76.37999999999998" stroke="#b4b4b4"/>
<line x1="637.2" y1="76.37999999999998" x2="634.2" y2="76.37999999999998" stroke="#b4b4b4"/>
<text x="410.2" y="81.54" text-anchor="end" class="m">0.4</text>
<line x1="412.3" y1="53.91999999999999" x2="415.3" y2="53.91999999999999" stroke="#b4b4b4"/>
<line x1="637.2" y1="53.91999999999999" x2="634.2" y2="53.91999999999999" stroke="#b4b4b4"/>
<text x="410.2" y="59.16" text-anchor="end" class="m">0.6</text>
<line x1="412.3" y1="31.459999999999994" x2="415.3" y2="31.459999999999994" stroke="#b4b4b4"/>
<line x1="637.2" y1="31.459999999999994" x2="634.2" y2="31.459999999999994" stroke="#b4b4b4"/>
<text x="410.2" y="36.78" text-anchor="end" class="m">0.8</text>
<line x1="412.3" y1="9.0" x2="415.3" y2="9.0" stroke="#b4b4b4"/>
<line x1="637.2" y1="9.0" x2="634.2" y2="9.0" stroke="#b4b4b4"/>
<text x="410.2" y="14.40" text-anchor="end" class="m">1</text>
<polyline points="508.6,29.7 513.1,32.6 511.6,32.8 510.6,30.8 514.6,30.6 520.0,33.5 521.8,34.4 520.0,35.3 522.7,31.8 525.3,33.2 523.6,29.1 529.3,31.3 536.2,26.4 539.4,32.0 537.5,28.7 534.8,25.8 540.5,29.6 545.1,30.5 547.6,29.5 548.0,31.3 546.1,29.5 550.4,31.1 551.2,35.4 552.2,32.3 554.8,33.1 557.2,34.1 565.9,42.9 568.1,39.0 567.1,38.8 568.1,44.1 568.7,44.7 572.5,51.2 573.0,51.6 582.8,50.5 577.5,58.0 577.6,55.2 578.4,51.9 585.1,53.3 580.3,61.5 577.9,58.4 579.7,59.0 586.2,64.1 593.2,67.0 592.1,66.5 586.5,67.4 592.4,70.3 599.0,71.7 600.7,77.1 594.4,73.2 592.5,72.5 594.1,78.2 605.0,76.5 608.8,75.5 606.6,71.7 606.7,80.8 607.2,80.8 613.7,79.9 616.4,81.7 606.1,84.4 609.0,84.8 617.6,92.2 618.3,97.3 618.8,108.7 619.7,103.0 622.8,100.9 628.8,101.2 623.9,96.4 620.2,108.3 619.7,118.3 623.7,118.3 611.5,129.9 617.0,129.8 618.1,133.2 617.4,128.1 624.8,131.7 612.3,133.1 618.1,133.4 621.9,123.8 602.9,127.0 601.6,124.5 609.7,134.5 613.0,139.7 611.3,143.6 608.9,150.3 607.8,153.6 614.5,140.4 608.5,140.2 615.1,142.9 608.5,144.7 613.0,150.9 615.0,164.6 603.8,168.0 612.1,156.8 614.9,157.7 606.9,165.6 605.3,167.5 607.0,169.9 598.3,180.1 595.9,178.4 600.5,169.2 597.1,172.8 600.4,181.4 600.1,183.8 598.3,177.8 596.7,182.2 593.2,191.9 576.0,187.2 579.5,190.1 590.1,188.4 590.1,189.3 587.8,189.1 581.7,189.5 578.6,193.0 576.8,195.9 573.4,204.8 576.4,200.7 561.2,200.9 550.2,208.4 557.3,209.1 561.4,205.4 562.2,201.2 566.4,206.7 552.7,213.5 547.7,205.6 550.4,205.0 548.0,210.2 553.7,215.7 549.6,215.9 544.0,214.8 543.7,217.1 545.3,219.7 545.6,208.0 539.5,212.6 529.3,206.6 530.4,206.4 531.6,210.4 535.4,211.2 526.1,208.0 523.4,203.3 521.0,205.1 512.1,204.5 511.0,210.5 509.4,208.4 508.3,209.8 506.6,205.0 509.2,209.9 500.8,211.0 501.4,214.4 501.0,199.4 503.5,204.1 506.3,207.5 506.0,209.6 502.4,205.0 500.3,206.1 503.2,208.7 499.8,205.6 490.7,203.3 495.5,212.6 495.3,210.6 493.7,207.5 495.6,207.7 496.7,207.0 491.0,202.8 485.2,192.7 486.3,200.8 479.1,199.3 483.3,196.4 476.7,204.0 462.9,199.3 467.8,188.7 475.5,187.1 467.2,182.1 456.0,177.3 460.4,172.6 459.7,181.3 460.4,179.7 453.6,179.3 450.4,171.6 452.3,174.5 451.0,174.3 451.0,174.6 442.7,167.0 441.1,168.4 447.8,167.9 441.0,164.1 439.8,169.2 433.7,161.7 434.9,154.2 443.5,155.7 443.8,158.4 442.9,150.6 439.9,149.4 439.6,143.4 438.9,147.8 436.0,149.3 436.1,139.9 429.5,132.6 433.9,133.2 434.9,132.3 429.7,129.6 433.1,124.8 430.2,124.0 432.0,121.3 435.2,115.7 436.8,113.8 435.6,119.6 439.8,116.1 439.8,110.4 436.3,99.0 437.9,98.3 437.1,99.7 441.3,97.2 446.7,99.0 442.6,96.6 447.0,96.6 447.0,99.3 450.5,99.0 448.3,99.3 449.2,93.3 452.3,88.9 450.6,87.9 448.6,86.9 454.1,82.4 453.8,78.1 454.5,75.4 453.3,78.1 454.1,72.8 449.8,70.6 449.0,64.6 452.7,67.7 452.9,63.8 453.8,60.2 461.5,58.7 460.3,64.2 457.0,63.6 461.7,59.6 464.2,57.7 467.0,56.1 467.4,50.5 470.2,46.3 473.4,47.4 479.4,39.8 477.7,37.8 475.8,38.6 475.6,40.4 477.5,47.7 485.7,40.1 490.5,38.2 492.9,33.9 499.6,36.6 497.9,36.4 495.8,35.2 505.4,31.8 505.9,41.0 507.7,37.7 516.9,35.4 520.3,36.3 515.7,39.7 513.6,40.1 521.9,38.5 527.1,38.0 523.5,34.8 524.0,32.6 523.5,33.5 527.8,28.5 529.6,30.0 533.9,33.4 537.4,32.4 534.0,32.0 533.0,32.9 543.7,33.0 541.4,34.7 544.3,37.9 550.0,33.1 549.9,32.3 557.3,40.2 552.4,38.2 549.5,37.3 556.9,39.1 557.3,44.3 562.1,40.6 561.0,43.4 565.3,41.3 565.6,45.8 572.4,48.5 564.7,52.8 564.0,51.0 569.3,55.7 572.8,58.0 573.4,59.9 573.4,57.3 580.5,61.2 586.3,57.4 583.9,58.1 577.2,63.8 576.3,59.8 582.9,63.3 578.9,62.6 586.6,62.9 588.7,70.5 589.3,73.2 592.5,76.0 592.9,79.2 597.8,74.3 599.6,83.6 597.7,83.1 597.8,82.1 601.8,77.5 601.8,76.8 606.6,82.7 603.7,85.5 607.6,82.6 605.7,87.2 604.7,77.9 607.0,79.2 601.9,85.4 607.5,89.2 602.8,88.1 612.7,87.6 611.3,102.2 605.0,105.8 616.1,111.4 625.3,112.1 620.4,102.6 619.5,97.6 619.4,115.8 617.8,124.5 613.4,124.0 628.8,118.2 631.4,121.2 616.3,124.7 612.4,127.3 617.9,119.9 624.6,123.7 619.5,131.9 608.5,133.2 617.5,139.9 620.4,136.0 615.8,136.2 613.3,143.7 626.2,148.1 622.6,153.6 623.2,155.7 616.6,153.2 622.3,160.7 616.0,167.4 619.1,171.8 628.6,171.8 619.3,168.2 613.4,165.3 610.1,167.5 600.8,168.9 595.6,170.1 604.6,167.0 607.2,171.3 602.2,175.2 596.1,181.1 602.1,174.6 603.7,179.6 592.5,181.2 595.4,183.7 591.3,177.9 589.2,176.4 594.5,178.8 581.6,178.2 586.8,179.3 578.9,182.6 581.2,189.0 584.8,185.0 577.9,187.9 580.7,195.4 578.6,198.0 581.9,202.0 575.9,202.4 568.1,194.2 567.4,188.2 568.5,196.1 570.7,199.8 571.0,205.1 565.1,209.1 562.8,212.2 567.9,208.7 558.9,206.7 552.7,211.2 555.3,215.1 552.9,220.9 549.6,216.5 543.6,209.0 546.8,205.6 539.6,200.1 545.5,197.7 545.4,218.0 541.4,220.8 533.8,217.6 531.6,215.8 529.9,217.7 524.6,217.0 524.9,222.0 531.1,219.3 526.0,203.1 523.4,201.7 516.7,212.5 510.3,215.3 510.7,215.8 513.1,208.9 498.6,212.4 504.3,215.7 504.9,204.6 501.7,211.5 502.9,219.5 497.6,213.3 490.6,213.3 492.8,216.2 495.2,217.4 493.0,208.8 493.3,208.2 483.7,210.2 488.1,202.1 481.6,196.7 479.7,196.9 475.9,200.7 478.1,195.2 477.3,201.6 483.2,199.7 478.0,207.9 475.8,202.1 478.1,203.3 469.3,197.6 458.5,200.8 449.2,200.9 462.3,193.8 460.4,186.2 460.8,178.0 462.5,186.7 451.7,186.2 446.8,178.5 447.6,174.8 450.4,169.8 451.1,172.0 444.3,165.0 445.4,169.4 447.6,159.0 443.0,163.6 444.2,164.2 440.8,162.5 444.4,152.9 441.7,155.8 439.2,150.2 427.8,155.4 427.7,145.8 434.2,145.6 435.6,143.4 433.4,144.7 432.1,138.1 432.8,136.8 427.0,131.7 429.9,134.3 432.6,135.7 435.4,130.3 434.2,126.3 437.6,122.3 435.2,120.4 434.4,120.6 437.0,119.0 439.3,117.2 440.3,111.2 437.2,110.2 439.5,105.9 438.7,104.1 436.1,99.2 436.7,100.3 441.4,100.5 438.3,92.6 439.1,94.4 442.2,92.3 447.2,92.7 447.6,88.2 440.0,89.8 448.3,85.0 449.6,83.0 449.2,83.0 457.7,85.6 454.1,78.9 452.8,76.6 458.2,72.9 461.2,70.6 461.2,64.1 463.3,66.7 466.8,69.2 467.7,63.5 467.3,58.1 468.5,57.8 468.7,56.5 469.2,55.1 466.5,57.6 470.1,54.3 472.3,48.3 477.7,46.4 473.6,47.1 474.9,46.5 508.1,33.4 510.9,27.7 514.6,29.1 509.6,27.7 513.3,30.6 523.5,35.1 523.6,27.2 524.4,28.3 519.7,29.6 524.4,28.4 529.2,27.3 529.8,26.7 530.8,27.1 531.8,27.7 535.0,27.8 540.8,33.6 541.3,33.3 543.7,30.3 543.3,27.6 542.5,32.2 545.4,37.4 549.5,36.3 550.6,38.8 554.3,44.7 555.4,38.8 557.9,39.8 557.8,41.7 561.7,43.0 561.7,42.1 565.9,49.8 562.4,46.6 573.6,45.3 573.4,52.5 575.0,56.4 572.3,56.3 577.3,57.0 577.1,56.5 577.0,59.1 579.0,63.6 586.1,63.3 584.0,66.7 590.3,61.4 587.5,68.9 588.8,62.7 588.6,68.3 591.6,68.4 589.0,66.8 596.3,68.7 592.5,79.4 593.2,79.3 594.7,80.7 594.2,85.0 594.3,82.0 601.9,74.6 605.6,78.1 601.4,80.9 599.5,89.5 607.8,95.2 611.6,90.7 610.3,86.0 604.5,88.9 608.1,89.9 608.3,95.2 607.7,87.0 609.2,102.4 605.6,103.7 614.0,100.0 610.4,106.6 615.6,122.9 612.6,117.1 623.4,113.5 623.3,133.2 618.1,141.5 610.9,134.6 609.3,124.6 611.3,131.0 607.1,131.6 599.5,131.5 601.9,139.8 602.4,141.3 598.2,143.8 607.6,141.3 608.7,140.9 608.0,147.0 608.9,154.2 607.0,143.5 604.4,146.4 606.3,151.0 605.0,144.2 606.6,150.0 602.8,153.0 604.1,159.0 604.8,170.9 603.1,171.1 605.1,154.8 593.6,154.6 598.3,173.7 605.3,173.6 604.6,162.4 600.3,180.6 605.2,187.1 605.0,171.0 592.2,177.0 595.7,178.2 590.7,180.8 588.0,184.1 590.4,185.5 584.5,198.2 586.7,199.6 580.7,192.1 582.8,181.0 581.4,186.3 577.5,188.2 566.3,192.3 564.7,193.8 575.3,199.6 570.3,196.9 564.1,197.6 569.5,200.7 568.9,196.4 566.4,199.1 554.4,195.1 553.7,195.9 558.8,200.4 558.1,202.2 553.1,196.1 553.3,197.7 547.6,200.8 538.2,202.8 537.5,207.4 546.1,204.1 545.3,206.9 542.2,209.9 532.6,206.1 529.3,200.1 531.3,204.6 530.6,201.8 523.2,207.4 524.2,208.3 522.6,206.6 525.9,211.9 527.2,213.4 525.9,212.4 521.2,208.5 511.4,206.4 509.4,209.6 508.9,208.2 507.4,206.9 508.2,205.4 504.2,208.0 497.2,204.5 499.2,201.2 501.6,203.2 493.7,205.6 494.6,209.0 501.8,206.6 497.5,203.1 494.1,204.8 494.1,199.1 495.4,204.8 497.0,203.9 494.1,205.0 491.9,199.3 483.6,193.8 481.6,192.8 477.7,199.9 472.1,194.8 474.9,192.9 479.0,185.8 470.4,187.6 468.3,191.7 467.2,186.5 464.4,181.2 459.0,173.2 452.2,168.2 455.3,180.9 450.9,180.9 443.9,163.4 444.2,168.7 451.9,167.1 451.2,164.9 446.6,168.7 447.6,167.7 441.0,169.8 437.5,169.0 441.9,160.1 443.3,155.5 439.2,157.4 443.9,153.2 443.1,151.7 442.6,149.2 443.2,149.3 435.0,143.4 437.3,138.6 440.2,136.5 438.9,131.8 437.1,129.5 435.3,130.4 442.4,128.9 438.5,130.0 439.0,126.2 441.6,122.4 438.0,125.1 438.5,116.7 433.6,113.3 438.5,118.8 439.9,115.3 441.0,106.7 445.5,104.5 444.6,100.7 443.3,103.3 445.6,97.4 448.5,97.2 444.2,97.4 446.1,96.4 445.9,96.2 446.9,94.7 452.4,95.4 448.7,90.3 444.4,84.9 447.5,87.1 452.7,85.7 448.1,81.7 450.4,81.0 456.3,77.9 457.2,71.4 455.9,71.6 456.5,70.5 454.1,63.8 455.2,63.7 459.8,68.4 461.3,69.0 454.4,65.1 457.8,61.1 458.1,51.1 461.6,56.3 469.3,52.7 475.3,50.2 474.7,47.4 473.8,39.3 479.1,38.9 474.8,38.3 473.2,40.3 475.6,41.9 475.0,40.5 480.8,36.9 489.2,37.4 494.0,36.4 495.8,34.1 497.2,27.3 503.0,29.4 501.1,33.7 503.1,35.5 507.4,38.3 511.2,40.0 514.4,37.1 515.7,39.9 520.5,40.4 523.4,36.9 527.0,34.3 525.0,37.5 521.5,31.8 525.5,24.9 530.9,24.9 530.2,23.5 535.4,30.2 534.1,29.2 537.2,25.0 545.0,26.3 545.5,31.3 546.8,29.8 546.9,33.2 545.5,34.1 548.0,36.8 550.2,35.3 552.6,47.0 558.8,40.5 559.3,37.6 561.8,39.3 563.0,34.7 565.0,32.7 563.7,36.4 572.8,46.4 568.0,48.2 570.2,44.4 572.6,43.6 570.5,44.6 577.7,50.5 578.8,54.0 580.3,54.4 578.8,54.2 584.2,54.7 585.4,58.8 582.4,58.1 587.1,61.3 588.3,67.1 591.7,67.3 587.2,67.3 593.7,66.7 599.8,66.4 589.6,72.5 591.2,70.2 596.1,67.7 594.3,67.6 592.2,68.7 602.1,75.6 595.6,76.1 606.1,78.4 609.3,78.4 609.8,75.9 613.8,79.9 607.6,83.6 605.9,81.8 614.6,91.1 623.2,86.0 621.4,86.2 613.9,95.4 609.1,97.0 614.0,93.6 618.6,97.1 631.6,88.6 633.0,98.6 628.8,110.8 631.3,105.3 622.5,105.6 633.6,105.5 627.4,119.2 623.3,129.4 618.9,124.8 616.3,120.2 617.9,122.4 631.1,120.8 636.0,128.8 634.2,130.5 625.3,130.0 618.8,139.6 624.3,147.0 621.2,140.3 625.1,144.5 624.9,154.5 623.9,142.7 613.2,150.6 612.7,155.0 620.1,154.9 612.2,146.4 620.2,154.2 625.7,163.9 628.1,173.6 629.2,167.6 617.2,167.4 612.4,169.5 612.8,177.5 611.7,168.6 611.3,175.5 612.6,184.3 622.0,174.6 619.1,175.5 605.7,186.3 599.7,188.8 604.5,191.0 601.8,188.2 605.8,191.3 600.5,191.4 596.5,207.2 597.2,195.8 598.2,197.2 588.9,190.0 588.9,191.9 581.0,200.6 582.5,198.4 591.8,197.9 585.1,196.1 578.9,198.5 577.7,199.5 581.3,197.6 579.6,207.3 585.0,211.6 570.7,215.3 568.7,207.7 567.8,210.6 566.4,207.8 564.7,208.5 562.6,211.1 555.3,210.8 550.3,214.1 553.0,207.3 553.3,205.7 545.2,209.8 545.8,211.1 539.0,213.4 537.1,224.3 538.8,228.0 541.0,221.4 538.6,211.6 530.5,218.1 531.9,215.9 527.8,215.5 520.5,219.5 525.7,214.5 517.5,208.4 504.8,214.1 509.9,216.6 516.3,213.8 506.3,207.0 503.7,211.0 510.7,208.6 517.8,214.3 506.1,216.6 500.7,214.0 497.3,217.5 493.8,210.5 492.7,220.9 496.9,218.2 492.6,210.4 496.9,210.2 494.6,215.7 482.7,207.1 487.3,209.2 481.9,203.7 479.2,208.9 474.4,202.7 473.7,202.8 483.6,200.9 484.9,203.7 479.2,199.5 472.3,196.5 466.5,189.2 471.2,194.1 470.3,195.6 459.5,193.6 459.6,190.0 454.7,189.9 455.7,183.0 452.6,178.8 447.6,176.3 443.7,174.6 439.5,170.4 433.7,170.7 436.8,174.4 443.1,169.4 446.1,165.7 441.2,157.7 440.9,154.4 442.2,162.8 438.7,161.4 440.5,158.7 442.8,154.8 438.1,152.1 432.6,153.4 424.8,149.4 427.6,149.5 430.7,144.0 427.3,146.7 428.7,144.3 426.8,139.3 423.2,132.3 423.4,129.7 434.1,129.5 431.3,127.3 433.8,123.5 432.4,120.7 430.6,122.7 434.0,121.3 433.9,116.7 439.9,115.5 436.9,115.2 433.4,106.5 431.6,106.2 430.4,106.7 433.7,109.2 433.8,104.1 432.1,97.8 436.8,93.4 441.1,93.8 437.2,91.2 442.9,91.5 440.4,86.8 440.1,87.1 446.6,84.5 455.3,74.4 451.5,76.4 456.2,79.7 456.8,74.7 452.6,73.3 456.8,68.6 454.8,68.2 460.6,67.0 465.8,65.2 465.0,59.5 458.7,58.4 456.9,53.9 463.7,50.9 467.5,57.0 463.3,55.7 467.1,51.8 471.8,47.8 473.3,48.7 476.5,49.7 477.5,48.4 473.3,47.9 514.7,28.5 512.8,37.5 514.1,34.4 518.2,32.1 516.1,33.9 517.5,37.1 518.5,31.8 522.9,37.0 526.3,35.5 520.0,32.4 526.7,31.3 536.9,30.6 538.5,27.8 535.7,29.6 537.9,30.2 537.8,28.2 544.5,32.5 546.2,31.5 548.2,33.1 542.2,31.7 545.7,33.6 546.2,30.8 549.8,25.4 549.6,27.5 558.4,35.7 554.9,37.8 556.7,38.5 559.8,41.3 563.7,41.1 570.2,39.7 574.2,48.0 567.0,48.6 568.7,46.4 576.8,48.2 572.6,50.4 575.2,53.4 583.0,55.9 582.7,60.1 581.9,60.6 586.8,64.1 586.2,63.9 585.7,63.4 592.2,69.3 589.3,70.6 591.9,67.2 598.7,69.4 596.2,66.7 590.8,64.6 589.5,64.8 595.1,74.0 599.4,76.3 600.6,73.0 599.6,77.5 601.7,77.3 602.9,79.3 609.3,80.1 608.2,84.4 603.7,83.1 608.9,82.8 610.8,90.4 606.2,91.8 606.0,93.3 610.8,94.6 614.0,92.1 613.7,96.0 618.0,103.8 622.3,116.6 610.4,114.6 606.0,113.2 606.5,120.3 604.1,122.8 615.1,121.2 613.4,117.0 619.6,117.9 606.5,126.4 603.3,131.0 611.8,121.8 616.5,120.3 610.8,128.8 615.0,136.1 609.9,129.1 613.9,135.6 611.8,136.6 610.1,151.2 601.4,138.8 597.9,137.2 600.8,152.7 609.0,151.8 602.4,151.3 596.4,147.9 612.6,154.4 623.4,162.0 606.7,159.6 594.6,155.2 603.5,156.7 597.7,170.2 602.7,167.3 591.0,179.8 591.8,170.2 596.7,162.8 603.8,170.4 592.2,176.3 586.9,176.9 583.7,182.8 595.9,177.4 592.6,176.8 585.5,183.2 579.5,185.1 570.8,193.7 578.3,191.7 577.5,190.8 575.4,184.6 580.8,180.9 573.9,179.9 573.1,191.6 568.0,189.4 561.1,190.4 564.3,193.0 566.1,192.8 554.8,187.1 549.3,197.7 550.2,202.1 554.9,203.5 552.4,202.3 546.3,204.1 549.5,206.9 554.1,193.2 553.0,194.7 559.9,203.4 550.2,204.0 551.3,216.3 549.2,210.3 542.8,210.9 535.3,212.1 533.7,214.8 530.1,210.2 525.6,212.4 527.4,210.0 528.1,207.9 524.1,215.3 529.2,209.9 514.8,209.4 513.9,210.8 520.6,204.6 516.7,210.9 511.8,210.2 503.6,209.5 503.9,203.3 510.5,209.2 499.2,215.4 501.6,207.1 498.5,200.3 497.5,201.6 500.8,209.9 499.9,207.9 500.8,204.3 499.5,202.0 491.3,198.3 484.8,204.2 495.3,204.6 492.9,205.3 492.3,199.0 491.6,201.5 487.0,189.4 482.9,196.6 476.6,194.7 485.3,188.4 483.9,186.3 480.1,185.9 486.4,188.1 474.7,184.0 471.2,176.6 461.9,178.4 462.6,180.1 462.3,175.2 460.6,174.7 458.9,172.2 454.2,183.8 449.8,179.3 448.3,170.6 440.3,171.7 444.0,172.7 445.1,160.3 446.6,158.0 448.6,153.6 446.8,154.9 441.2,159.5 441.6,159.9 449.1,155.9 446.0,155.4 447.3,147.0 443.4,148.1 438.9,150.3 438.8,142.1 438.9,144.5 438.5,141.9 441.0,137.9 436.7,132.4 431.2,129.9 434.4,125.8 440.3,118.9 433.3,120.3 433.2,120.0 434.6,118.4 438.3,120.2 442.8,118.2 443.0,116.1 443.5,113.4 435.9,106.1 433.0,105.7 439.1,105.0 443.7,99.5 443.1,100.5 445.5,97.1 448.4,95.8 448.7,94.9 443.2,93.9 443.1,92.9 445.7,90.6 449.1,89.7 447.0,86.9 448.8,87.9 449.6,84.3 451.1,75.1 455.0,70.5 458.4,70.7 454.1,72.3 453.6,66.5 451.7,62.8 454.8,65.3 452.8,60.4 457.3,64.9 455.8,63.1 457.7,59.6 459.7,55.0 458.9,58.5 456.8,54.9 459.3,52.0 466.5,48.9 472.1,46.5 469.4,41.6 478.0,42.4 476.9,41.3 473.9,40.5 473.3,37.0 479.7,36.8 490.9,44.5 489.3,37.6 489.0,36.3 494.3,37.4 497.5,36.8 496.4,36.7 504.9,40.3 511.9,37.4 516.1,40.4 515.4,47.3 512.1,42.9 512.2,30.5 517.9,29.9 520.9,33.2 524.3,38.1 526.7,32.4 528.0,32.9 525.6,28.8 523.3,30.8 530.7,33.8 530.7,31.0 529.4,35.4 538.6,35.6 540.5,31.0 543.9,33.9 542.1,32.1 547.2,35.6 545.5,37.6 549.3,31.7 549.1,33.2 552.7,32.2 555.9,41.2 561.5,40.5 561.8,34.7 562.5,35.4 557.3,39.8 558.5,43.4 560.2,40.0 563.1,39.6 568.9,40.2 571.4,42.0 573.3,49.5 572.6,56.5 571.9,53.4 577.6,55.7 579.6,60.7 576.8,67.8 580.2,64.8 576.7,66.6 584.5,65.8 587.6,60.5 593.8,63.9 594.3,63.6 587.4,63.9 591.2,68.1 597.3,72.5 593.8,72.2 591.6,77.0 601.2,74.6 599.0,78.8 603.7,78.3 604.1,73.2 607.7,72.5 610.8,72.0 605.1,77.5 605.1,76.2 604.5,81.3 603.0,81.3 615.0,80.4 613.7,87.2 613.4,90.8 613.9,88.4 618.7,89.5 621.6,82.3 618.1,83.0 623.2,104.8 614.8,110.0 614.5,111.0 620.6,111.0 614.0,119.3 608.0,118.8 611.6,117.4 614.7,117.1 617.8,126.0 611.8,127.9 611.2,126.0 621.1,123.2 629.2,130.2 623.2,135.8 619.4,129.2 609.8,137.6 618.1,151.3 622.0,140.3 615.0,147.8 614.0,146.6 620.6,153.0 622.7,162.8 618.6,163.4 626.5,151.8 624.2,153.7 620.9,163.0 627.7,163.9 629.8,155.3 613.0,160.5 614.9,172.0 620.3,175.5 619.8,174.8 615.8,176.2 612.4,171.9 613.0,173.0 612.9,184.0 612.9,184.9 619.7,180.5 614.4,183.5 609.5,184.7 603.0,188.8 609.6,186.7 601.3,183.0 592.8,190.2 602.7,192.6 601.5,194.7 595.9,197.9 581.3,200.0 579.5,199.0 571.0,200.1 577.9,198.7 571.4,207.3 578.0,204.7 577.7,205.3 583.8,206.0 575.0,201.6 571.0,201.7 563.8,200.7 558.5,205.0 562.7,211.0 564.3,216.3 568.4,215.2 562.5,223.3 555.8,212.9 550.7,215.5 547.9,215.4 540.5,211.0 538.7,217.1 542.0,220.1 538.5,220.0 539.7,218.3 537.1,219.9 538.9,216.7 535.0,216.4 529.8,221.1 522.2,221.3 525.8,211.3 518.1,212.9 512.6,224.3 518.1,216.7 514.9,215.0 507.4,211.0 504.9,216.6 509.3,213.7 508.0,215.6 506.7,217.5 509.7,218.6 504.2,211.0 495.3,207.7 493.3,209.7 496.5,215.0 492.1,208.5 486.0,204.6 492.2,205.4 493.3,205.2 492.9,211.0 483.6,205.4 480.9,198.7 474.8,203.1 473.3,207.1 475.0,207.5 482.1,199.8 481.8,198.0 471.8,199.6 464.9,198.5 462.9,195.2 459.4,194.4 458.1,198.1 463.8,196.3 462.2,197.6 459.6,196.0 452.8,192.6 451.4,186.6 445.9,181.2 445.7,174.4 438.3,181.0 442.7,180.1 448.6,174.2 445.2,173.4 442.6,174.1 436.9,168.4 434.1,161.8 435.3,165.6 439.0,164.8 434.1,161.3 429.3,163.5 428.0,165.4 431.8,158.4 433.8,155.0 433.4,159.1 427.3,154.7 422.2,150.5 428.0,147.4 423.2,139.8 423.9,141.4 424.3,137.2 423.6,136.9 426.6,131.5 429.6,125.7 429.4,126.6 431.7,122.0 427.8,121.0 435.8,119.3 440.4,116.1 440.4,114.7 441.0,112.6 440.3,105.0 438.3,109.5 435.5,107.7 440.9,101.5 443.8,92.8 444.0,97.2 439.9,95.0 440.1,92.2 440.9,91.5 441.0,86.1 444.0,85.6 443.9,89.6 453.1,82.4 454.2,82.6 455.2,80.2 451.3,74.8 454.6,73.9 459.4,70.4 458.0,66.0 458.8,68.6 454.4,65.4 463.3,63.2 469.3,61.5 468.7,58.4 465.4,58.8 468.8,58.3 472.5,56.8 468.6,54.9 467.6,51.6 466.1,56.6 477.1,53.1 477.6,51.9 482.2,44.4" fill="none" stroke="#4a64b2" stroke-width="0.55" stroke-linejoin="round"/>
<rect x="412.3" y="6.5" width="224.90000000000003" height="229.8" fill="none" stroke="#b4b4b4" stroke-width="1.25"/>
<text x="519.0" y="264.4" class="it2">x</text>
<text transform="translate(374.6,124.6) rotate(-90)" class="it">y</text>
</svg>
</body></html>
